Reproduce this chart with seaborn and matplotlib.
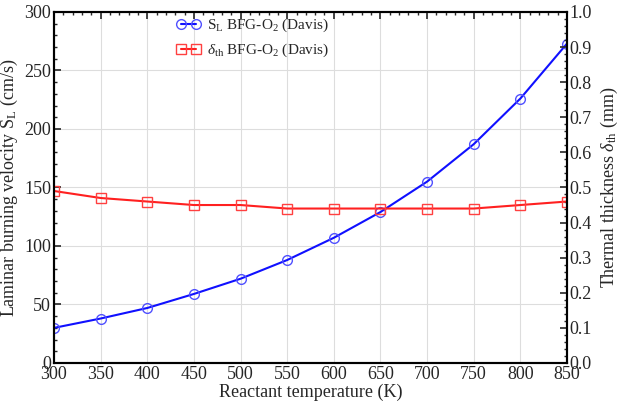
import matplotlib
matplotlib.use("Agg")
import matplotlib.pyplot as plt
import seaborn as sns
import pandas as pd
from matplotlib.ticker import MultipleLocator

temperature = [300, 350, 400, 450, 500, 550, 600, 650, 700, 750, 800, 850]
burning_velocity = [30, 38, 47, 59, 72, 88, 107, 129, 155, 187, 226, 273]
thermal_thickness = [0.49, 0.47, 0.46, 0.45, 0.45, 0.44, 0.44, 0.44, 0.44, 0.44, 0.45, 0.46]

sns.set_theme(style="white")
plt.rcParams['font.family'] = ['Liberation Serif', 'DejaVu Serif']
plt.rcParams['mathtext.fontset'] = 'custom'
plt.rcParams['mathtext.rm'] = 'Liberation Serif'
plt.rcParams['mathtext.it'] = 'Liberation Serif:italic'

df = pd.DataFrame({"T": temperature, "SL": burning_velocity, "dth": thermal_thickness})

fig = plt.figure(figsize=(6.3, 4.03), dpi=100)
ax = fig.add_axes([0.0857, 0.0993, 0.8143, 0.8710])
ax2 = ax.twinx()

sns.lineplot(data=df, x="T", y="SL", ax=ax, color="#1010ff", lw=1.5,
             marker="o", markersize=7, markerfacecolor="none",
             markeredgecolor="#5050ff", markeredgewidth=1.0,
             label=r"S$_\mathrm{L}$ BFG-O$_2$ (Davis)", legend=False)
sns.lineplot(data=df, x="T", y="dth", ax=ax2, color="#ff2020", lw=1.5,
             marker="s", markersize=7, markerfacecolor="none",
             markeredgecolor="#ff4040", markeredgewidth=1.0,
             label=r"$\delta_\mathrm{th}$ BFG-O$_2$ (Davis)", legend=False)

ax.set_xlim(300, 850)
ax.set_ylim(0, 300)
ax2.set_ylim(0, 1.0)
ax.xaxis.set_major_locator(MultipleLocator(50))
ax.xaxis.set_minor_locator(MultipleLocator(10))
ax.yaxis.set_major_locator(MultipleLocator(50))
ax.yaxis.set_minor_locator(MultipleLocator(10))
ax2.yaxis.set_major_locator(MultipleLocator(0.1))
ax2.yaxis.set_minor_locator(MultipleLocator(0.02))
ax2.yaxis.set_major_formatter(matplotlib.ticker.FormatStrFormatter('%.1f'))

ax.grid(True, which='major', color='#dddddd', lw=0.8)
ax.set_axisbelow(True)

for a in (ax, ax2):
    for s in a.spines.values():
        s.set_color('black')
        s.set_linewidth(1.5)
ax.tick_params(axis='both', which='major', direction='in', length=5, width=1.2,
               labelsize=13, pad=2, top=True)
ax.tick_params(axis='both', which='minor', direction='in', length=2.5, width=1.0, top=True)
ax.tick_params(axis='y', which='both', right=False)
ax2.tick_params(axis='y', which='major', direction='in', length=5, width=1.2, labelsize=13, pad=2)
ax2.tick_params(axis='y', which='minor', direction='in', length=2.5, width=1.0)

ax.set_xlabel("Reactant temperature (K)", fontsize=13, labelpad=1)
ax.set_ylabel(r"Laminar burning velocity S$_\mathrm{L}$ (cm/s)", fontsize=13, labelpad=3)
ax2.set_ylabel(r"Thermal thickness $\delta_\mathrm{th}$ (mm)", fontsize=13, labelpad=5)

h1, l1 = ax.get_legend_handles_labels()
h2, l2 = ax2.get_legend_handles_labels()
leg = ax.legend(h1 + h2, l1 + l2, loc='upper left', bbox_to_anchor=(0.212, 1.025),
                frameon=False, fontsize=11, handlelength=1.6, numpoints=2,
                handletextpad=0.4, labelspacing=0.5)

fig.savefig("out.png", dpi=100)
